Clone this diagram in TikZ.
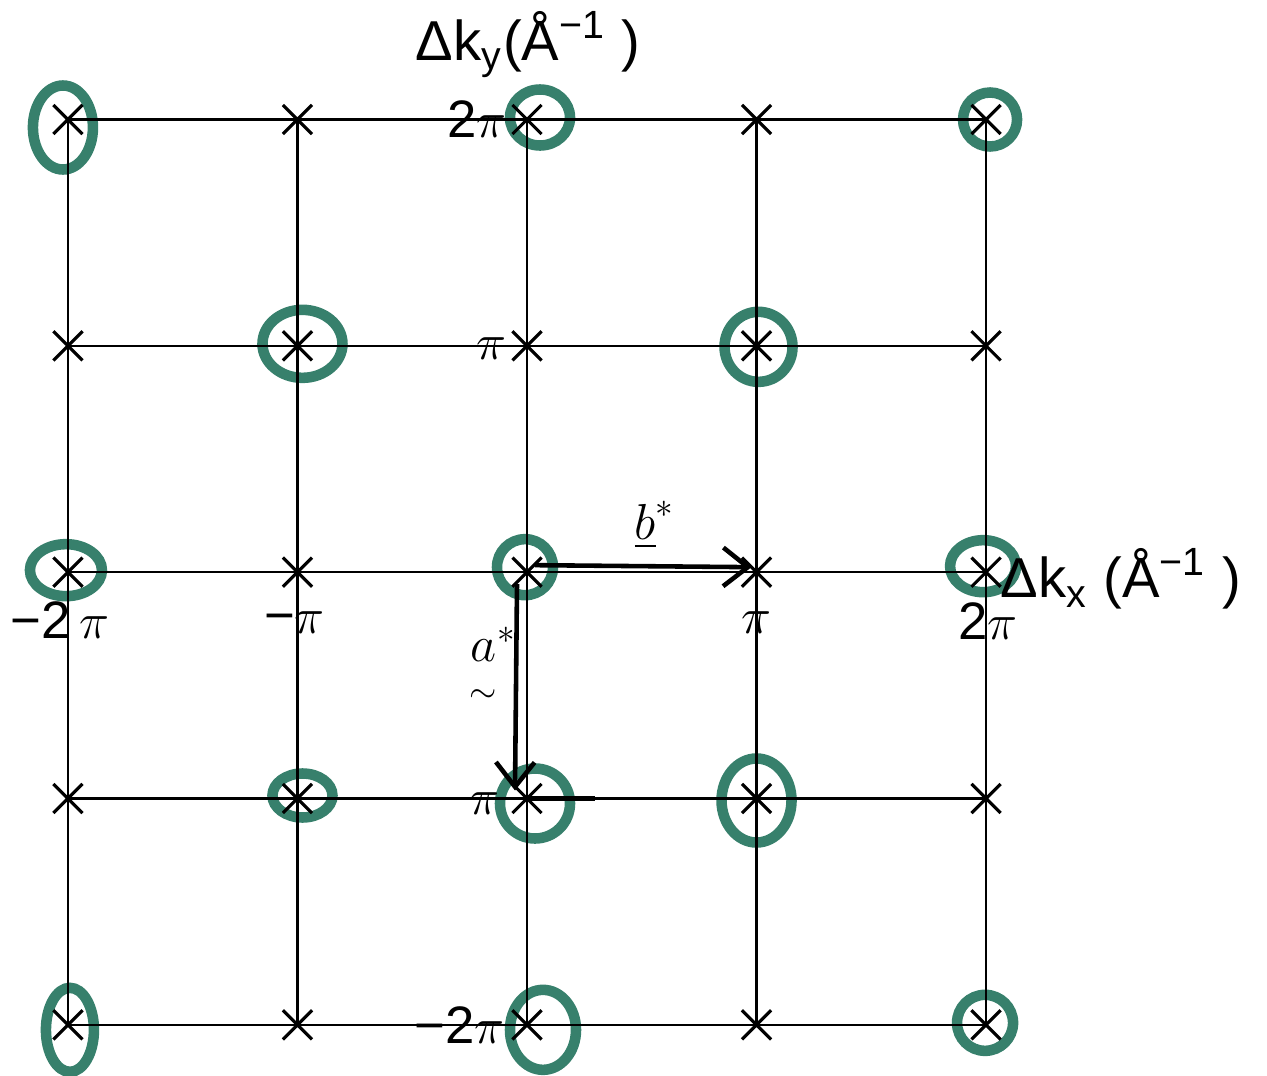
\documentclass[tikz,border=0pt]{standalone}
\usepackage{fontspec}
\setmainfont{Liberation Sans}
\usepackage{amsmath}
\usetikzlibrary{shapes.misc,arrows.meta,backgrounds}
\definecolor{marker}{RGB}{55,128,108}

\begin{document}
\begin{tikzpicture}[x=2.295cm,y=2.263cm,
  latt/.style={draw,cross out,minimum size=0.26cm,inner sep=0pt,line width=0.9pt},
  grid/.style={line width=0.6pt},
  ring/.style={draw=marker,line width=3pt},
  vec/.style={line width=1.3pt,-{Straight Barb[length=7pt,width=11pt]}},
  lab/.style={font=\fontsize{15}{17}\selectfont,inner sep=0pt}]
\useasboundingbox (-2.296,-2.223) rectangle (3.224,2.528);
% lattice points
\node[latt] (p-22) at (-2,2) {};
\node[latt] (p-12) at (-1,2) {};
\node[latt] (p02) at (0,2) {};
\node[latt] (p12) at (1,2) {};
\node[latt] (p22) at (2,2) {};
\node[latt] (p-21) at (-2,1) {};
\node[latt] (p-11) at (-1,1) {};
\node[latt] (p01) at (0,1) {};
\node[latt] (p11) at (1,1) {};
\node[latt] (p21) at (2,1) {};
\node[latt] (p-20) at (-2,0) {};
\node[latt] (p-10) at (-1,0) {};
\node[latt] (p00) at (0,0) {};
\node[latt] (p10) at (1,0) {};
\node[latt] (p20) at (2,0) {};
\node[latt] (p-2-1) at (-2,-1) {};
\node[latt] (p-1-1) at (-1,-1) {};
\node[latt] (p0-1) at (0,-1) {};
\node[latt] (p1-1) at (1,-1) {};
\node[latt] (p2-1) at (2,-1) {};
\node[latt] (p-2-2) at (-2,-2) {};
\node[latt] (p-1-2) at (-1,-2) {};
\node[latt] (p0-2) at (0,-2) {};
\node[latt] (p1-2) at (1,-2) {};
\node[latt] (p2-2) at (2,-2) {};
% grid
\draw[grid] (p-22.center) -- (p-2-2.center);
\draw[grid] (p-12.center) -- (p-1-2.center);
\draw[grid] (p02.center) -- (p0-2.center);
\draw[grid] (p12.center) -- (p1-2.center);
\draw[grid] (p22.center) -- (p2-2.center);
\draw[grid] (p-22.center) -- (p22.center);
\draw[grid] (p-21.center) -- (p21.center);
\draw[grid] (p-20.center) -- (p20.center);
\draw[grid] (p-2-1.center) -- (p2-1.center);
\draw[grid] (p-2-2.center) -- (p2-2.center);
% allowed reflections
\begin{scope}[on background layer]
\draw[ring] ([shift={(-0.05cm,-0.08cm)}]p-22.center) ellipse (0.30cm and 0.42cm);
\draw[ring] ([shift={(0.13cm,0.02cm)}]p02.center) ellipse (0.30cm and 0.28cm);
\draw[ring] ([shift={(0.04cm,0cm)}]p22.center) ellipse (0.27cm and 0.27cm);
\draw[ring] ([shift={(0.05cm,0.02cm)}]p-11.center) ellipse (0.40cm and 0.34cm);
\draw[ring] ([shift={(0.02cm,-0.01cm)}]p11.center) ellipse (0.34cm and 0.35cm);
\draw[ring] ([shift={(-0.02cm,0.02cm)}]p-20.center) ellipse (0.36cm and 0.26cm);
\draw[ring] ([shift={(-0.02cm,0.05cm)}]p00.center) ellipse (0.28cm and 0.28cm);
\draw[ring] ([shift={(-0.03cm,0.06cm)}]p20.center) ellipse (0.33cm and 0.26cm);
\draw[ring] ([shift={(0.05cm,0.03cm)}]p-1-1.center) ellipse (0.30cm and 0.22cm);
\draw[ring] ([shift={(0.08cm,-0.05cm)}]p0-1.center) ellipse (0.35cm and 0.35cm);
\draw[ring] ([shift={(0cm,-0.02cm)}]p1-1.center) ellipse (0.35cm and 0.42cm);
\draw[ring] ([shift={(0.02cm,-0.05cm)}]p-2-2.center) ellipse (0.24cm and 0.42cm);
\draw[ring] ([shift={(0.16cm,-0.05cm)}]p0-2.center) ellipse (0.33cm and 0.40cm);
\draw[ring] ([shift={(-0.01cm,0.02cm)}]p2-2.center) ellipse (0.28cm and 0.28cm);
\end{scope}
% axis labels
\node[lab,font=\fontsize{16}{18}\selectfont] (ky) at (0.005,2.33) {Δk\textsubscript{y}(Å\textsuperscript{−1} )};
\node[lab,font=\fontsize{16}{18}\selectfont,anchor=west] (kx) at ([xshift=0.14cm,yshift=-0.07cm]p20.center) {Δk\textsubscript{x} (Å\textsuperscript{−1} )};
\node[lab,anchor=east] (y2) at ([xshift=-0.2cm]p02.center) {2$\pi$};
\node[lab,anchor=east] (y1) at ([xshift=-0.2cm,yshift=-0.03cm]p01.center) {$\pi$};
\node[lab,anchor=east] (ym1) at ([xshift=-0.27cm,yshift=-0.05cm]p0-1.center) {$\pi$};
\node[lab,anchor=east] (ym2) at ([xshift=-0.22cm]p0-2.center) {−2$\pi$};
\node[lab] (xm2) at ([xshift=-0.08cm,yshift=-0.48cm]p-20.center) {−2\,$\pi$};
\node[lab] (xm1) at ([xshift=-0.03cm,yshift=-0.5cm]p-10.center) {−$\pi$};
\node[lab] (x1) at ([yshift=-0.5cm]p10.center) {$\pi$};
\node[lab,anchor=north] (x2) at ([xshift=0.02cm,yshift=-0.3cm]p20.center) {2$\pi$};
% reciprocal vectors
\draw[vec] ([xshift=0.08cm,yshift=0.07cm]p00.center) -- ([xshift=-0.05cm,yshift=0.05cm]p10.center);
\draw[vec] ([xshift=-0.1cm,yshift=-0.12cm]p00.center) -- ([xshift=-0.12cm,yshift=0.08cm]p0-1.center);
\draw[line width=1.2pt] (p0-1.center) -- ++(0.68cm,0);
\node (bstar) at ([xshift=1.28cm,yshift=0.47cm]p00.center) {\Large $\underline{b}^{*}$};
\node (astar) at ([xshift=-0.34cm,yshift=-0.95cm]p00.center) {\Large $\underset{\lower3pt\hbox{$\scriptstyle\sim$}}{a}^{*}$};
\end{tikzpicture}
\end{document}
